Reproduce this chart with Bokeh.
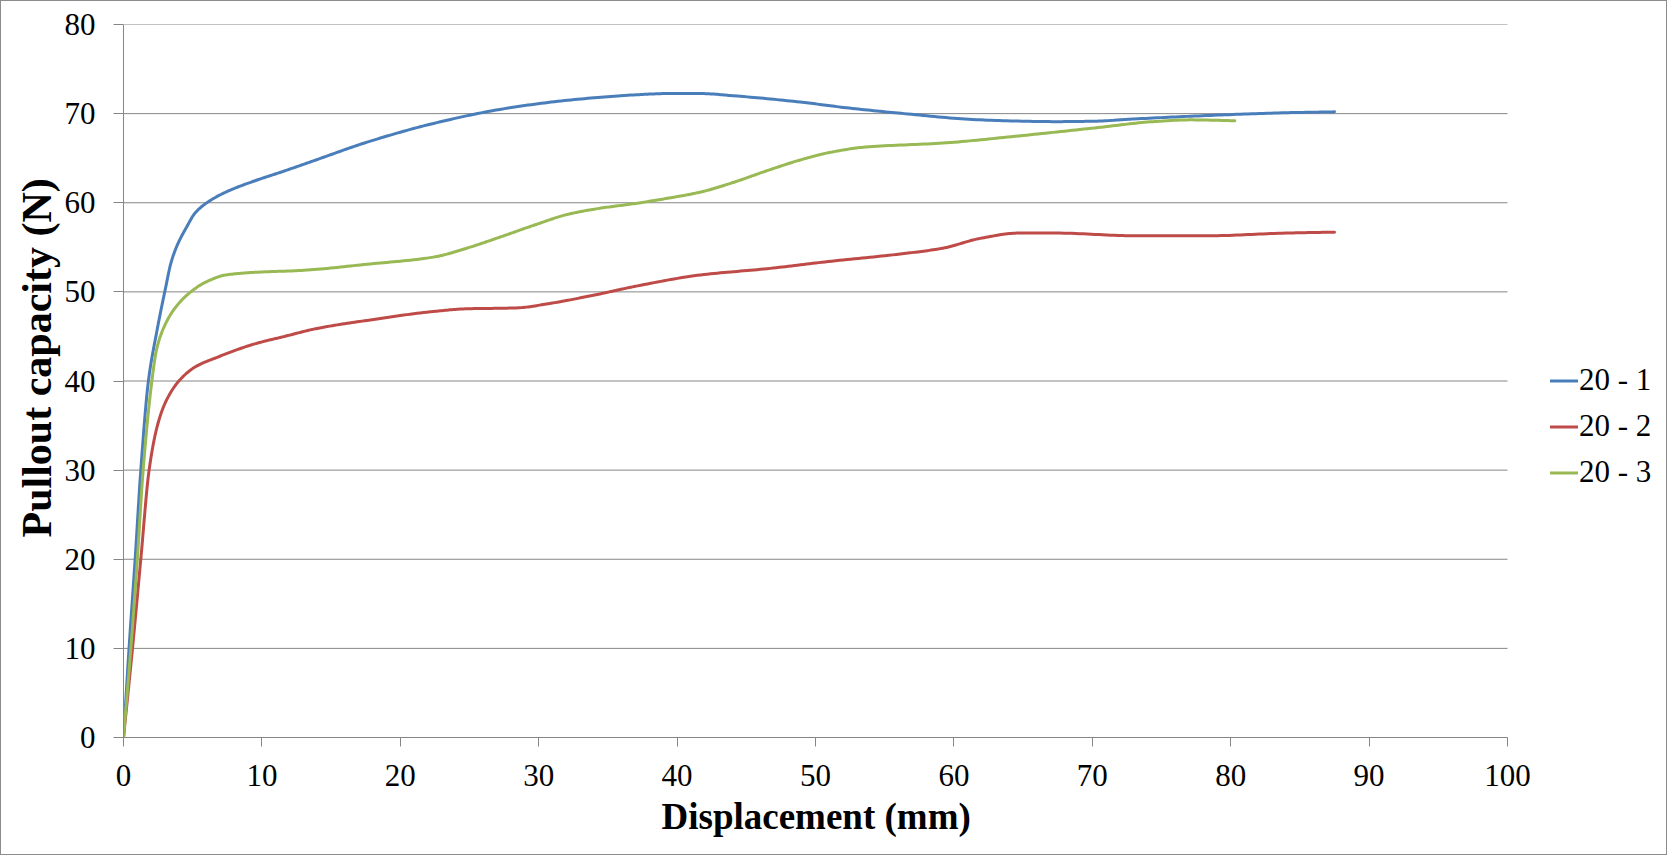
import numpy as np
from bokeh.plotting import figure
from bokeh.models import Range1d, FixedTicker, Legend, LegendItem, Title
from bokeh.embed import file_html
from bokeh.resources import INLINE

# ---- data ----
series_names = ["20 - 1", "20 - 2", "20 - 3"]

x_20_1 = [0, 0.4, 0.84, 1.25, 1.8, 2.4, 3.06, 3.42, 3.9, 4.5, 5.2, 6.07, 7.4, 9.56, 11.5,
          13.9, 17.6, 22.4, 27.3, 32.1, 36.9, 39.3, 41.7, 44.1, 48.9, 52.0, 56.4, 61.9,
          67.4, 70.2, 73.0, 78.5, 84.0, 87.5]
y_20_1 = [0, 10, 20, 30, 40, 45.5, 50.6, 53.2, 55.3, 57.1, 58.9, 60.05, 61.2, 62.5, 63.5,
          64.8, 66.8, 68.9, 70.5, 71.5, 72.1, 72.25, 72.25, 72.0, 71.3, 70.7, 70.0, 69.3,
          69.1, 69.15, 69.4, 69.8, 70.1, 70.2]

x_20_2 = [0, 0.65, 1.25, 1.85, 2.45, 3.06, 4.0, 5.2, 6.67, 9.56, 11.5, 14.0, 17.6,
          22.4, 24.8, 28.4, 30.8, 34.5, 36.9, 41.7, 46.5, 50.9, 56.4, 59.2, 61.9, 64.7,
          67.4, 73.0, 78.5, 84.0, 87.5]
y_20_2 = [0, 10, 20, 30, 35, 37.7, 40, 41.6, 42.6, 44.2, 44.95, 45.9, 46.8,
          47.8, 48.1, 48.2, 48.7, 49.8, 50.6, 51.9, 52.6, 53.4, 54.3, 54.9, 56.0, 56.6,
          56.6, 56.3, 56.3, 56.6, 56.7]

x_20_3 = [0, 0.53, 1.0, 1.42, 2.05, 2.4, 3.0, 3.78, 4.86, 5.95, 7.4, 9.56, 12.8,
          17.6, 22.4, 24.8, 27.3, 29.7, 32.1, 34.5, 36.9, 39.3, 41.7, 44.1, 46.5, 48.9,
          50.9, 53.6, 59.2, 64.7, 70.2, 74.4, 77.1, 80.3]
y_20_3 = [0, 10, 20, 30, 40, 43.6, 46.3, 48.3, 50, 51.1, 51.9, 52.2, 52.4,
          53.1, 53.9, 54.9, 56.2, 57.5, 58.7, 59.4, 59.9, 60.5, 61.2, 62.3, 63.6, 64.8,
          65.6, 66.25, 66.7, 67.5, 68.4, 69.1, 69.3, 69.2]

x_ticks = [0, 10, 20, 30, 40, 50, 60, 70, 80, 90, 100]
y_ticks = [0, 10, 20, 30, 40, 50, 60, 70, 80]

x_title = "Displacement (mm)"
y_title = "Pullout capacity (N)"

# ---- styling / layout ----
FONT = "Liberation Serif"
GRID = "#868686"
COLORS = ["#4A7EBB", "#BE4B48", "#98B954"]
FIG_W, FIG_H = 1667, 855
LEFT, TOP, BOTTOM = 122, 23, 119
PX_PER_X = 13.84                      # horizontal scale of the axis (pixels per mm)
X_VIEW_END = (FIG_W - LEFT) / PX_PER_X  # frame runs on to the right edge, holding the legend


def smooth(xs, ys, n=20):
    """Smoothed drawing of the read points (monotone cubic Hermite in x)."""
    x = np.asarray(xs, float)
    y = np.asarray(ys, float)
    h = np.diff(x)
    d = np.diff(y) / h
    m = np.zeros_like(y)
    m[0], m[-1] = d[0], d[-1]
    for i in range(1, len(x) - 1):
        if d[i - 1] * d[i] <= 0:
            m[i] = 0.0
        else:
            w1 = 2 * h[i] + h[i - 1]
            w2 = h[i] + 2 * h[i - 1]
            m[i] = (w1 + w2) / (w1 / d[i - 1] + w2 / d[i])
    outx, outy = [], []
    t = np.linspace(0, 1, n, endpoint=False)
    for i in range(len(x) - 1):
        h00 = 2 * t**3 - 3 * t**2 + 1
        h10 = t**3 - 2 * t**2 + t
        h01 = -2 * t**3 + 3 * t**2
        h11 = t**3 - t**2
        outx.extend(x[i] + t * h[i])
        outy.extend(h00 * y[i] + h10 * h[i] * m[i] + h01 * y[i + 1] + h11 * h[i] * m[i + 1])
    outx.append(x[-1])
    outy.append(y[-1])
    return outx, outy


p = figure(width=FIG_W, height=FIG_H, output_backend="svg", toolbar_location=None,
           x_range=Range1d(0, X_VIEW_END), y_range=Range1d(y_ticks[0], y_ticks[-1]),
           min_border_left=LEFT, min_border_right=0,
           min_border_top=TOP, min_border_bottom=BOTTOM)
p.styles = {"border": "1px solid #8c8c8c"}
p.outline_line_color = None
p.background_fill_color = "white"
p.border_fill_color = "white"

p.xgrid.grid_line_color = None
p.ygrid.grid_line_color = None
# horizontal gridlines limited to the axis extent
p.segment(x0=[x_ticks[0]] * len(y_ticks), x1=[x_ticks[-1]] * len(y_ticks),
          y0=y_ticks, y1=y_ticks, line_color=GRID, line_width=1)

p.xaxis.ticker = FixedTicker(ticks=x_ticks)
p.yaxis.ticker = FixedTicker(ticks=y_ticks)
p.xaxis.bounds = (x_ticks[0], x_ticks[-1])
for ax in (p.xaxis[0], p.yaxis[0]):
    ax.axis_line_color = GRID
    ax.axis_line_width = 1
    ax.major_tick_line_color = GRID
    ax.major_tick_in = 0
    ax.minor_tick_line_color = None
    ax.major_label_text_font = FONT
    ax.major_label_text_font_size = "31px"
    ax.major_label_text_color = "black"
p.xaxis.major_tick_out = 9
p.yaxis.major_tick_out = 10
p.xaxis.major_label_standoff = 18
p.yaxis.major_label_standoff = 18

xt = Title(text=x_title, align="left", offset=538,
           text_font=FONT, text_font_style="bold", text_font_size="37px",
           text_color="black", standoff=10)
p.add_layout(xt, "below")

yt = Title(text=y_title, align="left", offset=200,
           text_font=FONT, text_font_style="bold", text_font_size="42px",
           text_color="black", standoff=4)
p.add_layout(yt, "left")

series = [(x_20_1, y_20_1), (x_20_2, y_20_2), (x_20_3, y_20_3)]
items = []
for name, (xs, ys), c in zip(series_names, series, COLORS):
    sx, sy = smooth(xs, ys)
    r = p.line(sx, sy, line_color=c, line_width=3, line_join="round", line_cap="round")
    items.append(LegendItem(label=name, renderers=[r]))

legend = Legend(items=items, location=(1427, 247),
                padding=0, margin=0, spacing=10,
                glyph_width=28, glyph_height=33, label_height=33, label_width=70,
                label_standoff=1,
                label_text_font=FONT, label_text_font_size="31px",
                label_text_color="black",
                border_line_color=None, background_fill_alpha=0)
p.add_layout(legend)

open("out.html", "w").write(file_html(p, INLINE))
